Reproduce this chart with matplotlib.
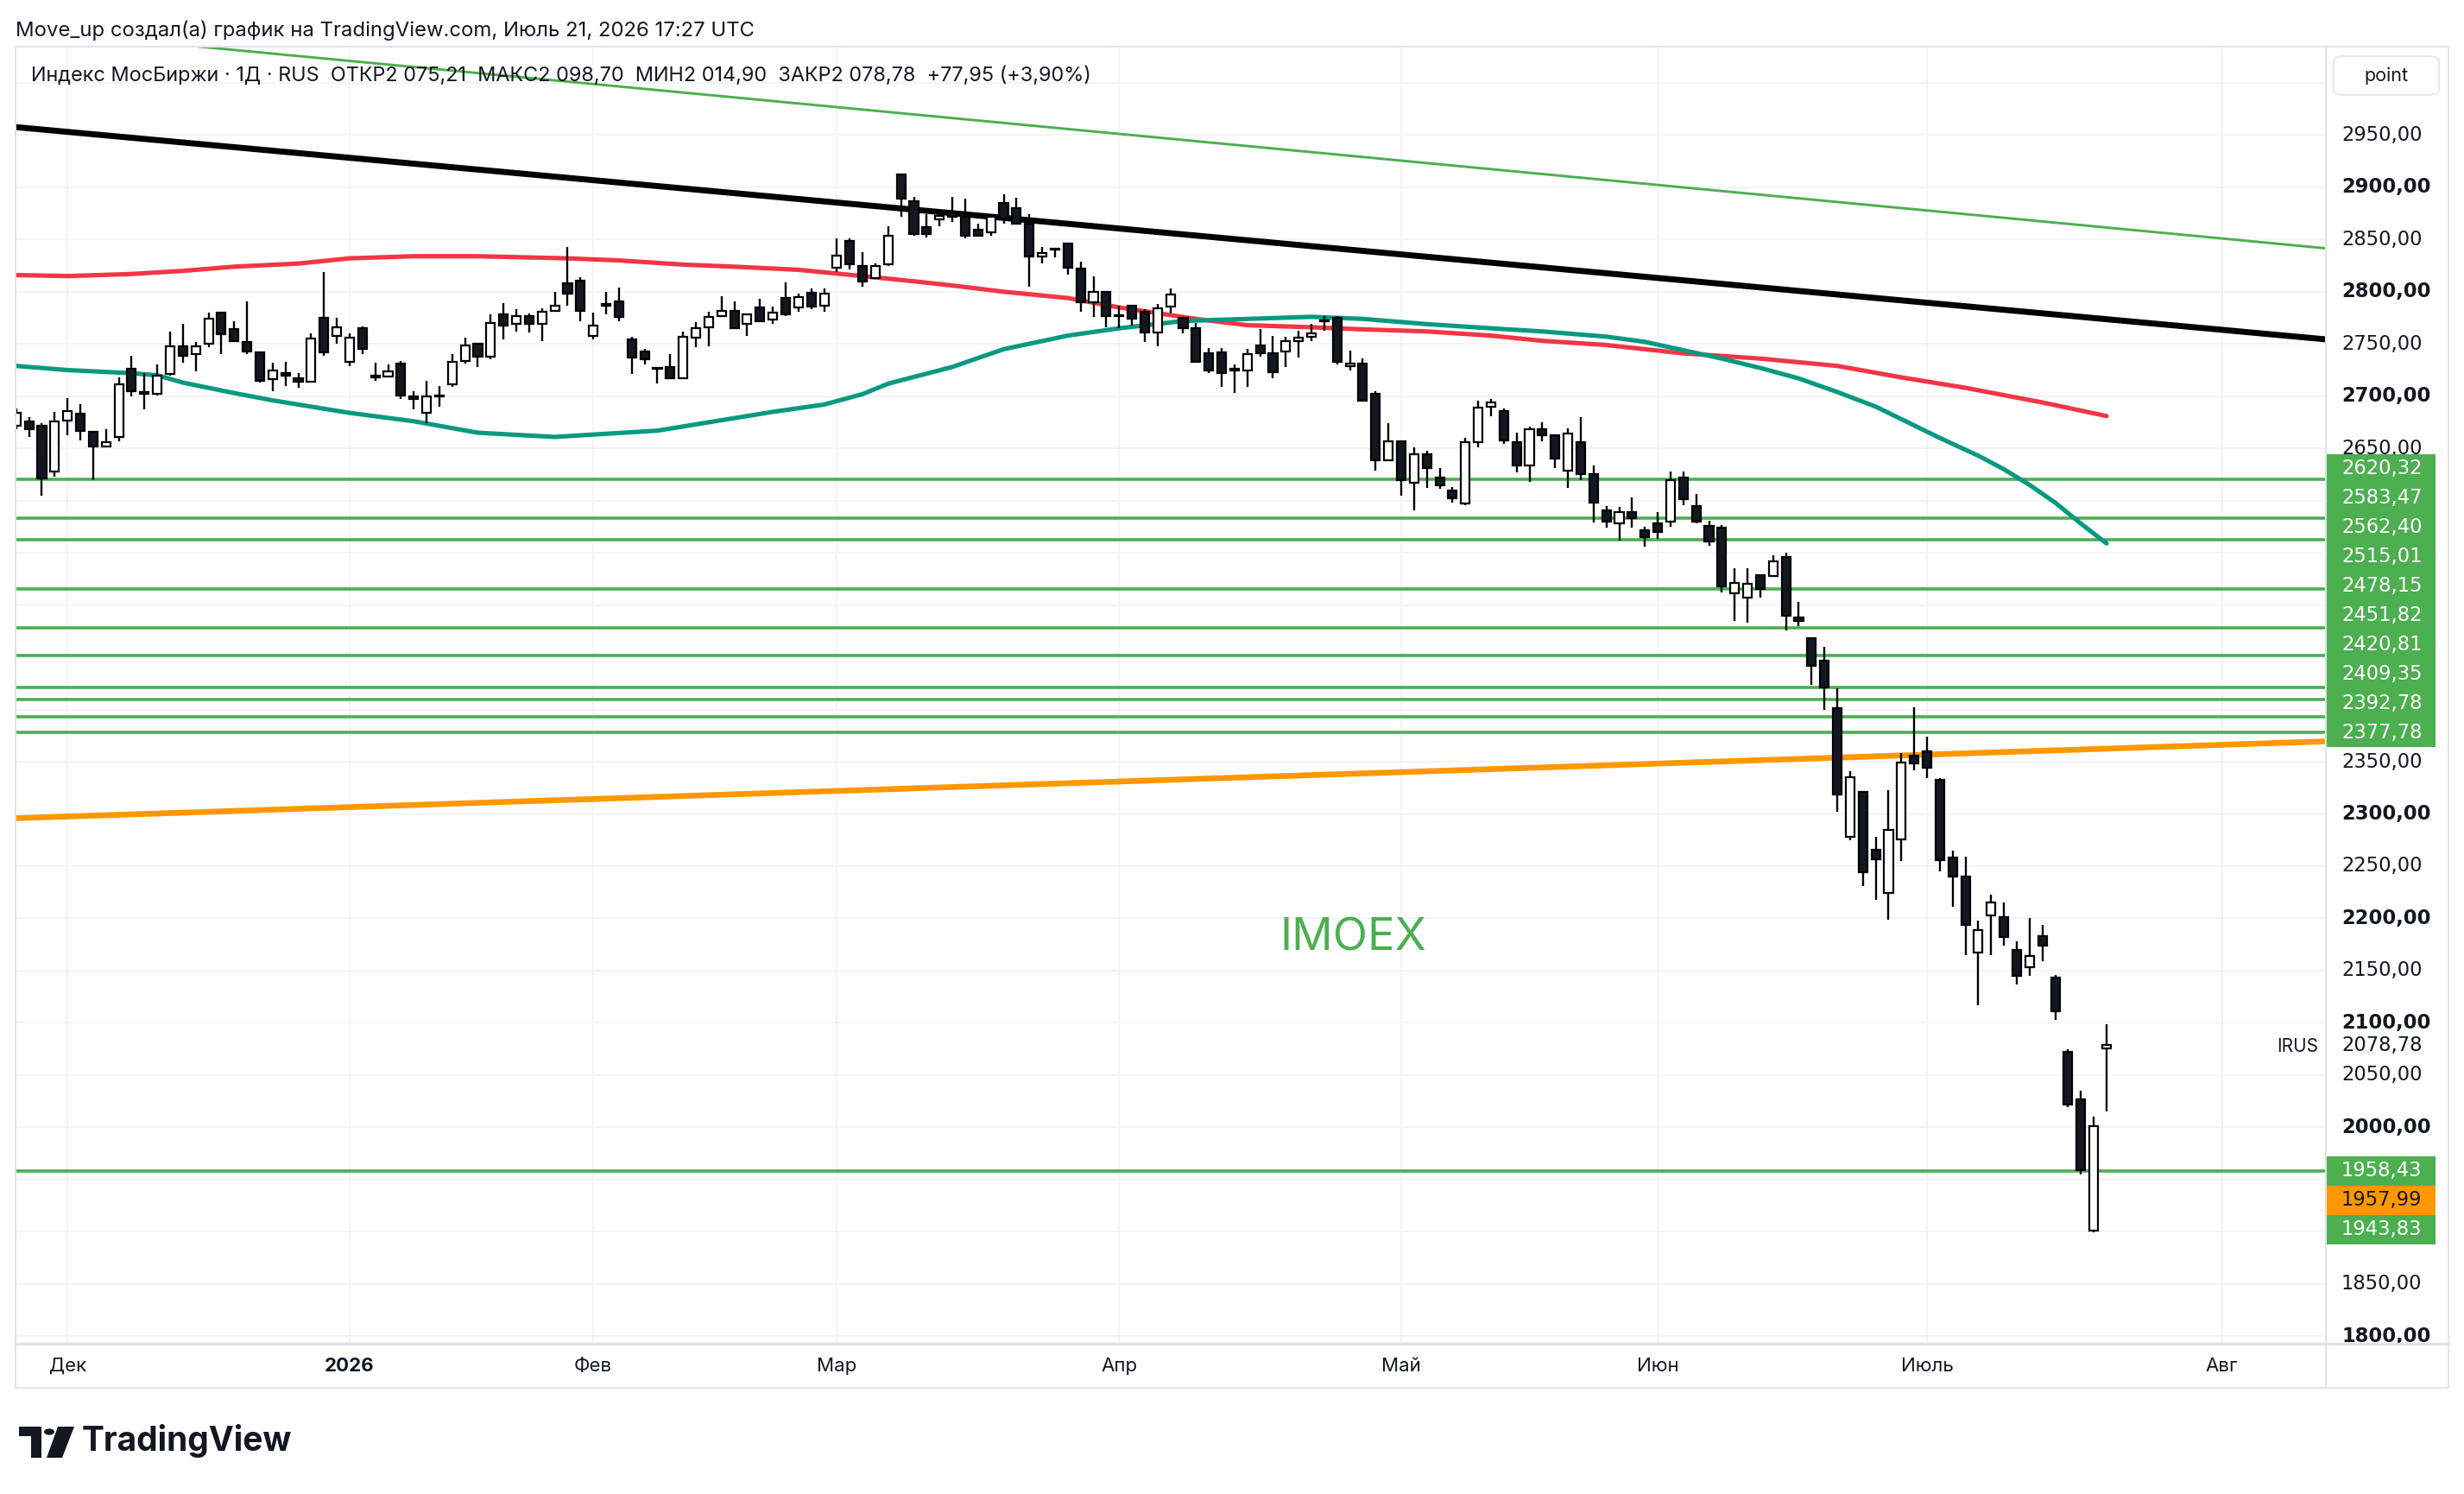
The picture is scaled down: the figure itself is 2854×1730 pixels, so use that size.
import matplotlib
matplotlib.use('Agg')
import matplotlib.pyplot as plt
import matplotlib.transforms as mtransforms
from matplotlib.patches import Rectangle, FancyBboxPatch, Polygon, Circle
from matplotlib.lines import Line2D

plt.rcParams['font.family'] = ['Inter', 'DejaVu Sans']

# ---- data (bar index 0 = first visible daily bar) ----
opens = [2672, 2676, 2672, 2628, 2677, 2683, 2666, 2652, 2661, 2726,
         2704, 2702, 2721, 2748, 2740, 2750, 2780, 2764, 2752, 2742,
         2716, 2722, 2717, 2714, 2775, 2758, 2733, 2765, 2720, 2719,
         2731, 2700, 2684, 2700, 2711, 2734, 2750, 2738, 2778, 2769,
         2777, 2769, 2782, 2808, 2811, 2758, 2787, 2791, 2754, 2743,
         2727, 2728, 2717, 2756, 2766, 2777, 2782, 2769, 2785, 2773,
         2794, 2785, 2799, 2787, 2823, 2849, 2825, 2813, 2826, 2912,
         2887, 2862, 2869, 2876, 2872, 2859, 2857, 2885, 2880, 2865,
         2834, 2841, 2846, 2822, 2790, 2800, 2777, 2787, 2781, 2761,
         2786, 2775, 2765, 2741, 2742, 2725, 2725, 2749, 2741, 2743,
         2753, 2757, 2772, 2775, 2729, 2731, 2702, 2639, 2657, 2617,
         2644, 2622, 2610, 2597, 2656, 2690, 2686, 2656, 2634, 2668,
         2663, 2629, 2656, 2625, 2591, 2578, 2589, 2572, 2578, 2580,
         2622, 2595, 2576, 2574, 2511, 2507, 2529, 2528, 2546, 2488,
         2468, 2447, 2401, 2278, 2321, 2266, 2224, 2276, 2356, 2360,
         2333, 2258, 2240, 2167, 2203, 2201, 2170, 2153, 2183, 2143,
         2072, 2027, 1901, 2075.21]
highs = [2688, 2680, 2674, 2685, 2698, 2692, 2667, 2668, 2718, 2739,
         2722, 2730, 2762, 2769, 2752, 2780, 2781, 2772, 2791, 2742,
         2732, 2733, 2722, 2760, 2819, 2775, 2760, 2767, 2732, 2730,
         2734, 2705, 2715, 2710, 2740, 2756, 2750, 2778, 2789, 2783,
         2779, 2784, 2800, 2843, 2814, 2780, 2800, 2804, 2757, 2745,
         2728, 2740, 2762, 2771, 2781, 2796, 2791, 2779, 2793, 2786,
         2809, 2798, 2803, 2803, 2851, 2851, 2838, 2827, 2863, 2912,
         2891, 2874, 2877, 2891, 2889, 2865, 2872, 2893, 2890, 2874,
         2843, 2842, 2847, 2829, 2815, 2801, 2787, 2787, 2783, 2788,
         2803, 2776, 2770, 2746, 2746, 2730, 2745, 2764, 2758, 2757,
         2763, 2769, 2777, 2777, 2744, 2736, 2705, 2674, 2657, 2651,
         2648, 2631, 2613, 2660, 2696, 2697, 2688, 2665, 2671, 2675,
         2663, 2669, 2680, 2634, 2595, 2594, 2603, 2575, 2589, 2628,
         2628, 2606, 2581, 2577, 2535, 2535, 2529, 2548, 2550, 2503,
         2469, 2460, 2420, 2341, 2321, 2278, 2323, 2358, 2402, 2374,
         2334, 2265, 2259, 2198, 2223, 2215, 2178, 2200, 2194, 2146,
         2075, 2035, 2010, 2098.70]
lows = [2668, 2661, 2605, 2623, 2663, 2658, 2620, 2651, 2657, 2700,
        2687, 2701, 2720, 2732, 2724, 2747, 2740, 2752, 2740, 2713,
        2705, 2710, 2708, 2714, 2739, 2750, 2729, 2740, 2715, 2719,
        2697, 2687, 2674, 2690, 2709, 2731, 2728, 2735, 2754, 2762,
        2761, 2753, 2781, 2787, 2772, 2754, 2778, 2772, 2721, 2730,
        2712, 2717, 2716, 2747, 2748, 2776, 2765, 2758, 2771, 2769,
        2777, 2781, 2783, 2781, 2819, 2821, 2805, 2812, 2825, 2872,
        2854, 2852, 2863, 2867, 2851, 2853, 2854, 2865, 2865, 2805,
        2827, 2833, 2816, 2781, 2776, 2766, 2765, 2768, 2752, 2748,
        2779, 2760, 2732, 2722, 2709, 2703, 2709, 2738, 2717, 2728,
        2737, 2753, 2763, 2730, 2725, 2695, 2629, 2638, 2605, 2591,
        2612, 2611, 2598, 2596, 2651, 2681, 2654, 2627, 2618, 2657,
        2631, 2612, 2620, 2579, 2574, 2562, 2574, 2556, 2563, 2575,
        2596, 2578, 2557, 2512, 2485, 2483, 2507, 2527, 2476, 2480,
        2424, 2400, 2302, 2275, 2231, 2218, 2199, 2255, 2342, 2334,
        2245, 2211, 2165, 2117, 2165, 2174, 2137, 2145, 2159, 2103,
        2019, 1955, 1899, 2014.90]
closes = [2684, 2668, 2621, 2676, 2686, 2667, 2652, 2656, 2711, 2705,
          2702, 2720, 2748, 2739, 2748, 2774, 2759, 2753, 2743, 2715,
          2725, 2720, 2714, 2755, 2742, 2766, 2756, 2745, 2718, 2724,
          2701, 2697, 2700, 2700.5, 2733, 2749, 2738, 2770, 2768, 2777,
          2769, 2781, 2787, 2798, 2782, 2768, 2787.5, 2776, 2737, 2735,
          2726, 2717, 2757, 2765, 2776, 2782, 2765, 2778, 2772, 2780,
          2778, 2795, 2786, 2798, 2835, 2826, 2810, 2825, 2854, 2889,
          2855, 2855, 2873, 2872, 2854, 2854, 2872, 2870, 2865, 2834,
          2837, 2840.5, 2823, 2790, 2800, 2777, 2776.5, 2774, 2761, 2784,
          2797, 2765, 2733, 2725, 2722, 2725.5, 2740, 2741, 2723, 2753,
          2756, 2760, 2772.5, 2733, 2731, 2696, 2639, 2657, 2620, 2644,
          2631, 2615, 2602, 2656, 2689, 2694, 2658, 2634, 2668, 2663,
          2640, 2664, 2625, 2598, 2580, 2589, 2583, 2565, 2570, 2620,
          2601, 2580, 2561, 2518, 2521, 2520, 2515, 2542, 2490, 2485,
          2442, 2421, 2319, 2335, 2244, 2257, 2285, 2349, 2348, 2344,
          2256, 2240, 2194, 2189, 2215, 2182, 2145, 2164, 2174, 2111,
          2022, 1959, 2000.83, 2078.78]

# moving averages, sampled at bar indices
red_ma_x = [0, 4, 9, 13, 17, 22, 26, 31, 36, 43, 47, 52, 56, 61, 66, 70, 73,
            77, 82, 86, 92, 96, 101, 105, 110, 115, 119, 124, 130, 136, 142,
            147, 152, 158, 163]
red_ma = [2816, 2815, 2817, 2820, 2824, 2827, 2832, 2834, 2834, 2832, 2830,
          2826, 2824, 2821, 2815, 2810, 2806, 2800, 2794, 2785, 2774, 2768,
          2766, 2764, 2762, 2758, 2753, 2749, 2741, 2736, 2729, 2718, 2708,
          2694, 2681]
teal_ma_x = [0, 4, 9, 11, 13, 17, 20, 22, 26, 31, 36, 42, 50, 59, 63, 66, 68,
             73, 77, 82, 86, 91, 96, 101, 105, 110, 115, 119, 124, 127, 130,
             133, 136, 139, 142, 145, 147, 150, 153, 155, 157, 159, 161, 163]
teal_ma = [2729, 2725, 2722, 2720, 2713, 2703, 2696, 2692, 2684, 2676, 2665,
           2661, 2667, 2685, 2692, 2702, 2712, 2728, 2745, 2758, 2765, 2772,
           2774, 2776, 2774, 2769, 2765, 2762, 2757, 2752, 2744, 2736, 2727,
           2717, 2704, 2690, 2678, 2660, 2643, 2630, 2615, 2598, 2578, 2559]

# trend lines: two anchor points (bar, price)
black_trend = [(0, 2957.6), (163, 2773.7)]
green_trend = [(0, 3051.3), (163, 2861.5)]
orange_trend = [(0, 2295.9), (163, 2362.5)]

levels_upper = [2620.32, 2583.47, 2562.40, 2515.01, 2478.15,
                2451.82, 2420.81, 2409.35, 2392.78, 2377.78]
level_low = 1958.43
low_labels = [(1958.43, 'green'), (1957.99, 'orange'), (1943.83, 'green')]

month_pos = [4, 26, 45, 64, 86, 108, 128, 149, 172]
month_lbl = ['Дек', '2026', 'Фев', 'Мар', 'Апр', 'Май', 'Июн', 'Июль', 'Авг']

last_close = 2078.78

# ---- figure layout (pixel based) ----
W, H = 2854, 1730
fig = plt.figure(figsize=(W / 100, H / 100), dpi=100)


def fx(x):
    return x / W


def fy(y):
    return 1 - y / H


PL, PR, PT, PB = 18, 2694, 54, 1556
RR, TB = 2836, 1607

ax = fig.add_axes([fx(PL), fy(PB), (PR - PL) / W, (PB - PT) / H])
axr = fig.add_axes([fx(PR), fy(PB), (RR - PR) / W, (PB - PT) / H])
ylim = (1792.7, 3034.7)
for a in (ax, axr):
    a.set_ylim(*ylim)
    a.axis('off')
ax.set_xlim(-0.05, 180.1)
axr.set_xlim(0, 1)

GREEN = '#4caf50'
GRID = '#f2f2f4'
DARK = '#131722'

# grid
for p in range(1800, 3001, 50):
    ax.axhline(p, color=GRID, lw=1.2, zorder=0)
for m in month_pos:
    ax.axvline(m, color=GRID, lw=1.2, zorder=0)

# horizontal levels
for lv in levels_upper + [level_low]:
    ax.axhline(lv, color=GREEN, lw=2.6, zorder=2)

# trend lines
ax.axline(*orange_trend, color='#ff9800', lw=4.8, zorder=3)
ax.axline(*green_trend, color=GREEN, lw=2.1, zorder=3)
ax.axline(*black_trend, color='black', lw=5.0, zorder=3)

# moving averages
ax.plot(red_ma_x, red_ma, color='#f23645', lw=3.7, zorder=3,
        solid_capstyle='round', solid_joinstyle='round')
ax.plot(teal_ma_x, teal_ma, color='#089981', lw=3.7, zorder=3.5,
        solid_capstyle='round', solid_joinstyle='round')

# candles
idx = list(range(len(opens)))
ax.vlines(idx, lows, highs, color='black', lw=1.7, zorder=4)
bottoms = [min(o, c) for o, c in zip(opens, closes)]
heights = [max(abs(c - o), 0.9) for o, c in zip(opens, closes)]
fills = ['white' if c >= o else DARK for o, c in zip(opens, closes)]
ax.bar(idx, heights, bottom=bottoms, width=0.68, color=fills,
       edgecolor='black', linewidth=1.6, zorder=5)

# watermark and series label
fig.text(fx(1567), fy(1087), 'IMOEX', color=GREEN, fontsize=38,
         ha='center', va='center', zorder=1)
fig.text(fx(2685), fy(1212), 'IRUS', color=DARK, fontsize=15,
         ha='right', va='center')

# price axis
rtrans = mtransforms.blended_transform_factory(axr.transAxes, axr.transData)
label_h = 28.1
AXFS = 16.3


def fmt(v):
    return f'{v:.2f}'.replace('.', ',')


boxes = []
pos = None
for v in sorted(levels_upper):          # stack upward from the lowest
    pos = v if pos is None else max(v, pos + label_h)
    boxes.append((pos, v, GREEN, 'white'))
pos = None
for v, c in low_labels:                  # stack downward from the highest
    pos = v if pos is None else min(v, pos - label_h)
    if c == 'green':
        boxes.append((pos, v, GREEN, 'white'))
    else:
        boxes.append((pos, v, '#ff9800', DARK))


def covered(p):
    return any(abs(p - b[0]) < label_h / 2 + 4 for b in boxes)


for p in range(1800, 2951, 50):
    if covered(p):
        continue
    axr.text(0.127, p, f'{p},00', transform=rtrans, ha='left', va='center',
             fontsize=AXFS, family=['DejaVu Sans'], color=DARK,
             fontweight='bold' if p % 100 == 0 else 'normal',
             clip_on=True, zorder=1)
axr.text(0.127, last_close, fmt(last_close),
         transform=rtrans, ha='left', va='center', fontsize=AXFS,
         family=['DejaVu Sans'], color=DARK, zorder=1)

for y, v, face, tcol in boxes:
    axr.add_patch(Rectangle((0, y - label_h / 2), 0.894, label_h,
                            transform=rtrans, facecolor=face,
                            edgecolor='none', zorder=3))
    axr.text(0.127, y, fmt(v), transform=rtrans, ha='left', va='center',
             fontsize=AXFS, family=['DejaVu Sans'], color=tcol, zorder=4)

# time axis labels
ttrans = mtransforms.blended_transform_factory(ax.transData, fig.transFigure)
for m, lbl in zip(month_pos, month_lbl):
    fig.text(m, fy(1582), lbl, transform=ttrans, ha='center', va='center',
             fontsize=16, color=DARK,
             fontweight='bold' if lbl == '2026' else 'normal')

# header texts
fig.text(fx(18), fy(35), 'Move_up создал(а) график на TradingView.com, '
         'Июль 21, 2026 17:27 UTC', fontsize=17.2, color=DARK,
         ha='left', va='center')
fig.text(fx(36), fy(88), 'Индекс МосБиржи · 1Д · RUS  ОТКР2 075,21  '
         'МАКС2 098,70  МИН2 014,90  ЗАКР2 078,78  +77,95 (+3,90%)',
         fontsize=16.9, color=DARK, ha='left', va='center')

# "point" box
fig.add_artist(FancyBboxPatch((fx(2703), fy(110)), (2825 - 2703) / W,
                              (110 - 65) / H,
                              boxstyle='round,pad=0,rounding_size=0.004',
                              transform=fig.transFigure, facecolor='white',
                              edgecolor='#e0e3eb', lw=1.2))
fig.text(fx(2764), fy(88), 'point', fontsize=15.5, color=DARK,
         ha='center', va='center')

# frame lines
FRAME = '#e0e3eb'


def hline(y, x0, x1, lw=1.5):
    fig.add_artist(Line2D([fx(x0), fx(x1)], [fy(y), fy(y)], color=FRAME,
                          lw=lw, transform=fig.transFigure))


def vline(x, y0, y1, lw=1.5):
    fig.add_artist(Line2D([fx(x), fx(x)], [fy(y0), fy(y1)], color=FRAME,
                          lw=lw, transform=fig.transFigure))


hline(PT, PL, RR)
hline(PB, PL, RR, lw=2.5)
hline(TB, PL, RR)
vline(PL, PT, TB)
vline(PR, PT, TB)
vline(RR, PT, TB)

# TradingView logo
logo = [Rectangle((fx(22), fy(1663)), 26 / W, 11 / H),
        Rectangle((fx(36), fy(1688)), 12 / W, 36 / H),
        Circle((fx(57), fy(1658)), 6 / W),
        Polygon([(fx(67), fy(1652)), (fx(86), fy(1652)),
                 (fx(72), fy(1688)), (fx(54), fy(1688))])]
for p in logo:
    p.set_transform(fig.transFigure)
    p.set_facecolor(DARK)
    p.set_edgecolor('none')
    fig.add_artist(p)
fig.text(fx(95), fy(1669), 'TradingView', fontsize=28, fontweight='bold',
         color=DARK, ha='left', va='center')

fig.savefig('out.png', dpi=100, facecolor='white')
